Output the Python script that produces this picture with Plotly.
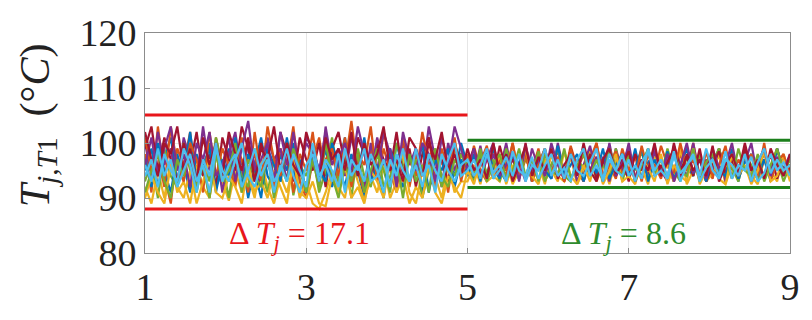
import numpy as np
import plotly.graph_objects as go

# Junction temperature T_j,T1 of each device, before (1-5) and after (5-9) balancing
blue_a = [95, 99, 92, 97, 101, 93, 96, 91, 98, 94, 100, 92, 95, 99, 93, 97, 90, 96, 101, 94, 92, 98, 95, 100, 93, 91, 97, 94, 99, 92, 96, 101, 93, 95, 90, 98, 94, 97, 92, 100, 95, 93, 99, 91, 96, 98, 93, 97, 94, 100]
blue_b = [96, 93.5, 98, 94, 99, 95, 93, 97.5, 94.5, 98.5, 93, 96, 99, 94, 97, 93.5, 98, 95, 93, 99, 94.5, 97, 93, 98.5, 95, 94, 99, 93.5, 96.5, 98, 94, 97, 93, 99, 95.5, 94, 98, 93, 96, 99, 94.5, 97.5, 93, 98, 95, 93.5, 99, 94, 97, 95.5, 96]
orange_a = [98, 91, 103, 94, 89, 99, 96, 102, 92, 97, 90, 101, 95, 93, 100, 97, 91, 102, 94, 98, 92, 99, 96, 103, 93, 90, 97, 101, 94, 99, 92, 96, 104, 95, 91, 99, 93, 102, 97, 94, 100, 92, 98, 95, 101, 93, 97, 91, 99, 96]
orange_b = [94, 99.5, 95, 93, 98, 96.5, 94, 100, 93.5, 97, 95, 99, 93, 96, 98.5, 94, 99.5, 95.5, 93, 97, 100, 94, 96, 93.5, 99, 95, 97.5, 93, 98, 94.5, 99.5, 96, 93, 98, 95, 100, 94, 96.5, 93.5, 99, 95, 97, 94, 99.5, 93, 96, 98, 94.5, 99, 95, 97]
yellow_a = [92, 89, 95, 90, 97, 91, 93, 89, 96, 92, 90, 98, 93, 89.5, 95, 91, 94, 90, 97, 92, 89, 94, 91, 96, 90, 93, 89, 88, 91, 95, 92, 90, 97, 93, 89.5, 94, 91, 96, 90, 93, 98, 91, 89, 95, 92, 94, 90, 96, 91, 93]
yellow_b = [93, 96, 92.5, 98, 94, 93, 97, 92.5, 95, 99, 93, 96, 92.5, 98, 94, 93, 97.5, 92.5, 95, 98.5, 93, 96, 92.5, 97, 94, 99, 93, 95.5, 92.5, 98, 94, 96, 93, 99, 92.5, 95, 97.5, 93, 94.5, 98, 92.5, 96, 93.5, 99, 94, 92.5, 97, 95, 93, 98, 94]
purple_a = [100, 94, 102, 96, 99, 92, 101, 97, 93, 103, 95, 99, 91, 98, 102, 94, 100, 96, 92, 101, 97, 99, 93, 102, 95, 100, 98, 92, 103, 96, 99, 94, 101, 97, 92, 100, 95, 102, 98, 93, 101, 96, 99, 94, 103, 97, 92, 100, 95, 98]
purple_b = [97, 94, 99.5, 93.5, 98, 95, 100, 94, 96.5, 93, 99, 95.5, 97, 93.5, 100, 94.5, 98, 93, 96, 99.5, 94, 97.5, 93, 99, 95, 100, 93.5, 97, 94, 98.5, 95, 93, 99.5, 96, 94, 100, 93.5, 97, 95, 99, 93, 98, 94.5, 96.5, 100, 93.5, 97, 95, 99, 94, 96]
green_a = [93, 97, 90, 99, 94, 92, 100, 95, 91, 97, 93, 101, 96, 90, 98, 94, 92, 99, 95, 91, 97, 93, 100, 90.5, 96, 94, 98, 91, 95, 101, 93, 97, 90, 99, 94, 92, 98, 95, 91, 100, 96, 93, 97, 90, 95, 99, 92, 96, 94, 98]
green_b = [95, 93, 98, 94.5, 97, 93, 99, 95, 93.5, 97.5, 94, 98.5, 93, 96, 99, 94, 93, 97, 95.5, 98, 93.5, 96, 94, 99, 93, 97, 95, 98.5, 93.5, 96, 94, 99, 95, 93, 97.5, 94, 98, 93, 96.5, 99, 94, 95.5, 93, 98, 96, 93.5, 99, 94.5, 97, 93, 96]
darkred_a = [99, 103, 95, 101, 97, 93, 100, 96, 102, 94, 98, 92, 101, 97, 95, 103, 99, 93, 100, 96, 94, 102, 98, 93, 101, 97, 95, 100, 92, 99, 102, 96, 94, 101, 98, 93, 100, 97, 95, 102, 94, 99, 92, 98, 101, 95, 97, 93, 100, 96]
darkred_b = [96, 99, 94, 97.5, 93.5, 99.5, 95, 97, 94, 100, 93.5, 96, 98.5, 94, 97, 93, 99, 95.5, 94, 98, 93.5, 96.5, 99.5, 94, 97, 93, 98, 95, 99, 94, 96, 93.5, 100, 95, 97.5, 94, 99, 93, 96, 98.5, 94.5, 97, 93.5, 99, 95, 96.5, 94, 98, 93.5, 97, 95]
cyan_a = [96, 93, 99, 94, 97, 92, 95, 98, 93, 96, 91, 99, 95, 93, 97, 100, 94, 92, 96, 98, 93, 95, 99, 94, 91, 96, 98, 93, 97, 95, 92, 99, 94, 96, 93, 98, 95, 91, 97, 94, 99, 93, 96, 92, 98, 95, 93, 97, 100, 94]
cyan_b = [95, 97, 93.5, 98, 94.5, 96, 93, 98.5, 95, 94, 97.5, 93.5, 96, 98, 94, 95.5, 93, 97, 99, 94, 96, 93.5, 98, 95, 94, 97, 93, 96.5, 98.5, 94, 95, 93.5, 97.5, 94.5, 96, 98, 93, 95.5, 97, 94, 98.5, 93.5, 96, 95, 97.5, 93, 94.5, 98, 95, 96.5, 94]

blue2_a = [97, 92, 100, 95, 91, 98, 94, 102, 93, 96, 99, 91, 97, 94, 101, 92, 98, 95, 90, 99, 96, 93, 101, 94, 97, 91, 99, 95, 93, 100, 96, 92, 98, 94, 101, 93, 96, 90, 99, 95, 92, 98, 94, 100, 91, 97, 95, 99, 92, 97]
blue2_b = [94, 98, 93, 99, 95.5, 93.5, 98, 94, 96.5, 99, 93, 97, 95, 93.5, 99.5, 94, 96, 98, 93, 97, 94.5, 99, 93.5, 96, 98, 94, 95.5, 99, 93, 97, 94, 98.5, 93.5, 96, 99, 94.5, 97, 93, 98, 95, 94, 99, 93.5, 96.5, 98, 94, 97, 93, 99, 95, 94.5]
orange2_a = [101, 95, 98, 92, 103, 96, 93, 100, 97, 91, 102, 94, 99, 96, 92, 101, 95, 98, 93, 103, 97, 94, 100, 91, 98, 95, 102, 93, 97, 99, 94, 101, 92, 98, 96, 103, 93, 99, 95, 91, 101, 97, 94, 102, 96, 92, 99, 95, 101, 93]
orange2_b = [98, 94, 96.5, 99.5, 93.5, 97, 95, 100, 94, 98, 93, 96, 99, 94.5, 97.5, 93, 99, 95, 98, 94, 100, 93.5, 96, 98.5, 94, 97, 93, 99.5, 95, 96, 93.5, 98, 94.5, 100, 95, 97, 93, 98.5, 94, 96, 99.5, 93.5, 97, 95, 98, 94, 100, 93, 96.5, 98, 94]
yellow2_a = [90, 94, 91, 89, 96, 92, 90, 95, 89, 93, 97, 91, 90, 94, 92, 89, 96, 91, 93, 90, 95, 92, 89, 97, 91, 90, 93, 89, 88.5, 94, 91, 96, 90, 92, 89, 95, 93, 90, 97, 91, 94, 89, 92, 90, 96, 91, 89, 94, 92, 90]
yellow2_b = [95, 92.5, 97, 93, 94, 98, 92.5, 96, 93.5, 99, 94, 92.5, 97, 95, 93, 98.5, 94, 92.5, 96, 93, 97.5, 92.5, 95, 98, 93, 94, 92.5, 97, 95.5, 93, 98, 92.5, 96, 94, 93, 99, 92.5, 95, 97, 93.5, 92.5, 98, 94, 96, 92.5, 95, 98.5, 93, 94, 97, 93]
purple2_a = [96, 101, 94, 99, 103, 95, 98, 92, 100, 97, 102, 94, 96, 101, 93, 99, 104, 95, 97, 100, 93, 102, 96, 98, 94, 101, 99, 95, 102, 93, 97, 100, 95, 103, 98, 94, 101, 96, 99, 92, 102, 97, 95, 100, 98, 93, 101, 96, 103, 99]
purple2_b = [95, 99, 93.5, 97, 100, 94, 96, 98.5, 93, 99.5, 95, 97, 94, 100, 96, 93.5, 98, 94.5, 99, 95, 97.5, 93, 100, 94, 96.5, 99, 93.5, 97, 95, 99.5, 94, 98, 93, 96, 100, 94.5, 97, 93.5, 99, 95.5, 96, 100, 94, 98, 93, 96.5, 99, 94, 97.5, 95, 98]
green2_a = [91, 95, 98, 93, 90, 97, 94, 99, 92, 96, 90, 98, 93, 95, 100, 91, 97, 94, 92, 98, 90, 96, 93, 99, 95, 91, 97, 92, 100, 94, 90, 96, 93, 98, 91, 95, 99, 92, 94, 97, 90, 98, 93, 96, 91, 99, 94, 92, 97, 95]
green2_b = [97, 94, 99, 93, 96, 98, 93.5, 95, 99, 94, 97, 93, 98, 95, 94, 99, 93.5, 96, 98, 94, 97, 93, 99, 95.5, 94, 98, 93, 96, 99, 94.5, 97, 93.5, 98.5, 95, 94, 99, 93, 96.5, 98, 94, 97, 93.5, 99, 95, 94, 98, 93, 96, 99, 94.5, 97]
darkred2_a = [102, 97, 94, 100, 98, 103, 95, 99, 93, 101, 96, 100, 94, 102, 98, 95, 101, 93, 99, 97, 103, 95, 100, 96, 94, 102, 98, 93, 101, 97, 99, 95, 102, 94, 100, 96, 98, 103, 95, 97, 93, 101, 99, 94, 100, 97, 102, 95, 98, 94]
darkred2_b = [99, 95, 97, 93.5, 100, 94.5, 98, 93, 96, 99.5, 94, 97.5, 95, 99, 93.5, 96, 98, 94, 100, 95, 93, 97, 99, 94.5, 96, 98.5, 93, 97, 95, 100, 94, 96.5, 99, 93.5, 98, 95, 97, 94, 99.5, 93, 96, 98, 94.5, 100, 95, 97, 93.5, 99, 96, 94, 98]
cyan2_a = [94, 97, 92, 98, 95, 93, 99, 96, 91, 97, 94, 100, 93, 96, 98, 92, 95, 99, 94, 97, 91, 96, 93, 98, 95, 92, 100, 94, 96, 93, 98, 91, 97, 95, 99, 93, 94, 97, 92, 98, 95, 93, 99, 94, 96, 91, 98, 95, 93, 96]
cyan2_b = [97, 94, 96, 99, 93.5, 95, 97.5, 94, 98, 93, 96, 95, 99, 94, 97, 93.5, 98, 95, 94, 96.5, 99, 93, 97, 95, 98, 94, 96, 93.5, 99, 95, 97, 94, 98.5, 93, 96, 97.5, 94, 99, 95, 93.5, 97, 96, 94, 98, 93, 96.5, 99, 94.5, 97, 95, 96]

# Envelope limits of each interval and the resulting swing
before_limits = [105.1, 88.0]
after_limits = [100.5, 91.9]
delta_before = 17.1
delta_after = 8.6

C_BLUE, C_ORANGE, C_YELLOW, C_PURPLE = "#0072BD", "#D95319", "#EDB120", "#7E2F8E"
C_GREEN, C_DARKRED, C_CYAN = "#77AC30", "#A2142F", "#4DBEEE"

series = [
    (blue_a, blue_b, C_BLUE),
    (orange_a, orange_b, C_ORANGE),
    (yellow_a, yellow_b, C_YELLOW),
    (purple_a, purple_b, C_PURPLE),
    (green_a, green_b, C_GREEN),
    (darkred_a, darkred_b, C_DARKRED),
    (blue2_a, blue2_b, C_BLUE),
    (orange2_a, orange2_b, C_ORANGE),
    (yellow2_a, yellow2_b, C_YELLOW),
    (purple2_a, purple2_b, C_PURPLE),
    (green2_a, green2_b, C_GREEN),
    (darkred2_a, darkred2_b, C_DARKRED),
    (cyan_a, cyan_b, C_CYAN),
    (cyan2_a, cyan2_b, C_CYAN),
]

fig = go.Figure()
for part_a, part_b, color in series:
    xa = np.linspace(1, 5, len(part_a), endpoint=False)
    xb = np.linspace(5, 9, len(part_b))
    fig.add_trace(go.Scatter(
        x=np.concatenate([xa, xb]), y=part_a + part_b,
        mode="lines", line=dict(color=color, width=2.2),
        hoverinfo="skip", showlegend=False))

red = "#E8161B"
green = "#1B7F1B"
for level in before_limits:
    fig.add_trace(go.Scatter(x=[1, 5], y=[level, level], mode="lines",
                             line=dict(color=red, width=3), showlegend=False))
for level in after_limits:
    fig.add_trace(go.Scatter(x=[5, 9], y=[level, level], mode="lines",
                             line=dict(color=green, width=3), showlegend=False))

serif = "Liberation Serif, DejaVu Serif, serif"
fig.add_annotation(x=2.92, y=83.2, xref="x", yref="y", showarrow=False,
                   text=f"Δ <i>T</i><sub><i>j</i></sub> = {delta_before}",
                   font=dict(family=serif, size=32, color=red))
fig.add_annotation(x=6.93, y=83.2, xref="x", yref="y", showarrow=False,
                   text=f"Δ <i>T</i><sub><i>j</i></sub> = {delta_after}",
                   font=dict(family=serif, size=32, color="#2E8B2E"))

# Rotated y-axis title
fig.add_annotation(x=-0.166, y=0.58, xref="paper", yref="paper", showarrow=False,
                   textangle=-90, xanchor="center", yanchor="middle",
                   text="<i>T</i><sub><i>j,T</i>1</sub>  (°<i>C</i>)",
                   font=dict(family=serif, size=42, color="#222222"))

axis_common = dict(
    showgrid=True, gridcolor="#E6E6E6", gridwidth=1,
    showline=True, linecolor="#8C8C8C", linewidth=1, mirror=True,
    ticks="inside", ticklen=5, tickcolor="#8C8C8C",
    tickfont=dict(family=serif, size=38, color="#222222"),
    zeroline=False,
)
fig.update_xaxes(range=[1, 9], tickvals=[1, 3, 5, 7, 9], **axis_common)
fig.update_yaxes(range=[80, 120], tickvals=[80, 90, 100, 110, 120], **axis_common)

fig.update_layout(
    width=812, height=320,
    margin=dict(l=145, r=12, t=26, b=54),
    paper_bgcolor="white", plot_bgcolor="white",
)

fig.write_html("out.html")
